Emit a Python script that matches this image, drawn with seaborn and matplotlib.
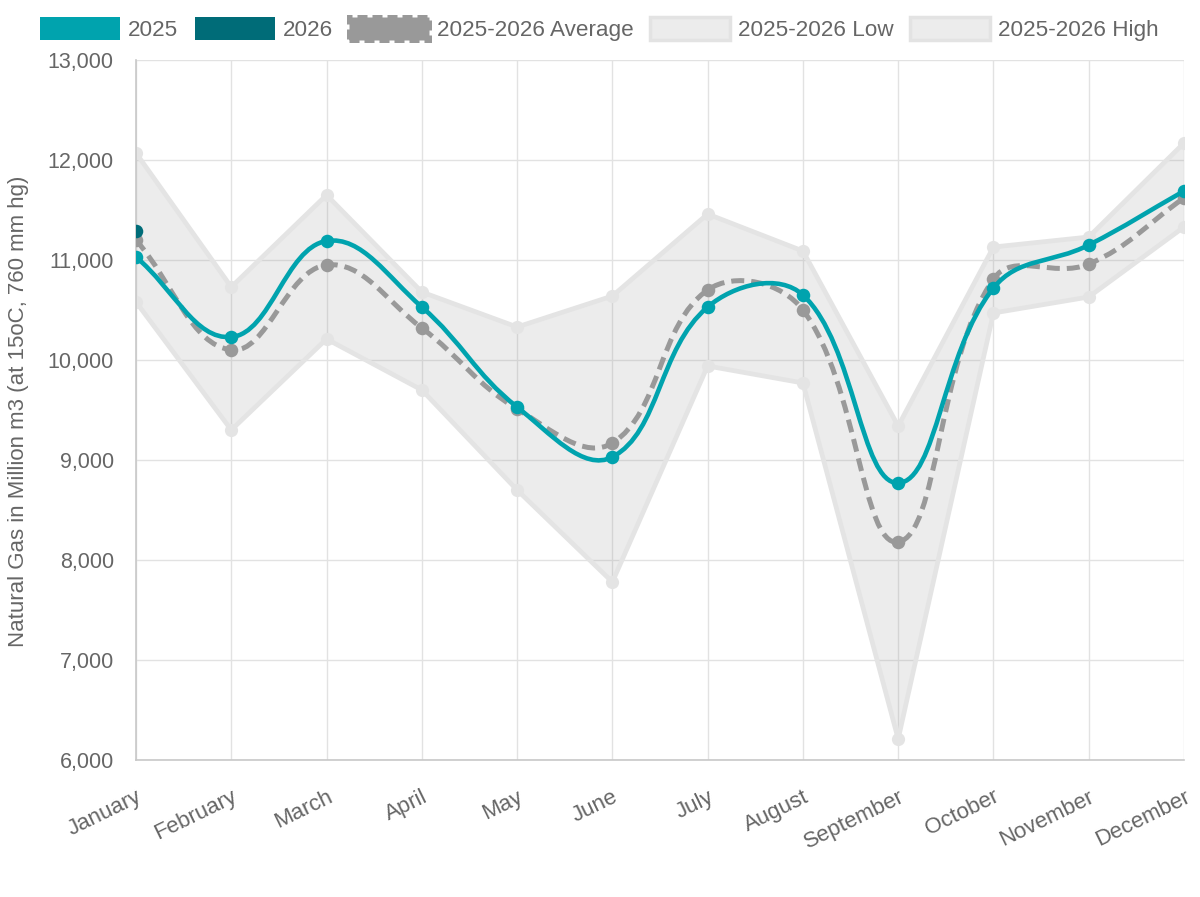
import numpy as np
import pandas as pd
import matplotlib
matplotlib.use('Agg')
import matplotlib.pyplot as plt
from matplotlib.path import Path
from matplotlib.patches import PathPatch, Patch
import seaborn as sns

# 数据
months = ['January', 'February', 'March', 'April', 'May', 'June',
          'July', 'August', 'September', 'October', 'November', 'December']
y2025 = [11030, 10230, 11190, 10530, 9530, 9030, 10530, 10650, 8770, 10720, 11150, 11690]
y2026 = [11290]
avg = [11200, 10100, 10950, 10320, 9510, 9170, 10700, 10500, 8180, 10810, 10960, 11620]
low = [10580, 9300, 10210, 9700, 8700, 7780, 9940, 9770, 6210, 10470, 10630, 11330]
high = [12070, 10730, 11650, 10680, 10330, 10640, 11460, 11090, 9340, 11130, 11230, 12170]

yticks = [6000, 7000, 8000, 9000, 10000, 11000, 12000, 13000]

TEAL = '#00a3ae'
DARK = '#006c78'
GRAY = '#999999'
BAND = '#e4e4e4'
TXT = '#666666'

sns.set_theme(style='white')
plt.rcParams['font.family'] = ['Liberation Sans', 'DejaVu Sans']

fig = plt.figure(figsize=(12, 8.97), dpi=100)
ax = fig.add_axes([136 / 1200, 1 - 760 / 897, 1048 / 1200, 700 / 897])
ax.set_xlim(0, 11)
ax.set_ylim(6000, 13000)

x = np.arange(len(months))
df = pd.DataFrame({'x': x, 'y2025': y2025, 'avg': avg, 'low': low, 'high': high})


def chartjs_curve(xs, ys, tension=0.4):
    """按 Chart.js 的方式生成贝塞尔曲线路径（像素空间计算控制点）"""
    pts = ax.transData.transform(np.column_stack([xs, ys]))
    n = len(pts)
    cp_prev = np.zeros_like(pts)
    cp_next = np.zeros_like(pts)
    for i in range(n):
        cur = pts[i]
        prev = pts[i - 1] if i > 0 else cur
        nxt = pts[i + 1] if i < n - 1 else cur
        d01 = np.hypot(*(cur - prev))
        d12 = np.hypot(*(nxt - cur))
        tot = d01 + d12
        s01 = d01 / tot if tot else 0
        s12 = d12 / tot if tot else 0
        cp_prev[i] = cur - tension * s01 * (nxt - prev)
        cp_next[i] = cur + tension * s12 * (nxt - prev)
    verts = [pts[0]]
    codes = [Path.MOVETO]
    for i in range(n - 1):
        verts += [cp_next[i], cp_prev[i + 1], pts[i + 1]]
        codes += [Path.CURVE4] * 3
    inv = ax.transData.inverted()
    return Path(inv.transform(np.array(verts)), codes)


# 网格
for v in yticks:
    ax.axhline(v, color='#e2e2e2', lw=1.0, zorder=0)
for xi in x:
    ax.axvline(xi, color='#e2e2e2', lw=1.0, zorder=0)

# 高低区间
ax.fill_between(x, low, high, color='#a0a0a0', alpha=0.2, lw=0, zorder=1)
for col in ['low', 'high']:
    sns.lineplot(data=df, x='x', y=col, color=BAND, lw=3.4, ax=ax, zorder=2,
                 marker='o', markersize=9.5, markeredgewidth=0, legend=False)

# 平均线（虚线）
ax.add_patch(PathPatch(chartjs_curve(x, avg), fill=False, edgecolor=GRAY, lw=3.6,
                       linestyle=(0, (2.6, 1.4)), capstyle='butt', zorder=3))
sns.scatterplot(data=df, x='x', y='avg', color=GRAY, s=95, linewidth=0, ax=ax, zorder=4)

# 2025
ax.add_patch(PathPatch(chartjs_curve(x, y2025), fill=False, edgecolor=TEAL, lw=3.3,
                       capstyle='round', zorder=5))
sns.scatterplot(data=df, x='x', y='y2025', color=TEAL, s=95, linewidth=0, ax=ax, zorder=6)

# 2026
sns.scatterplot(x=x[:len(y2026)], y=y2026, color=DARK, s=95, linewidth=0, ax=ax, zorder=7)

# 坐标轴
ax.set_xticks(x)
ax.set_xticklabels(months, rotation=26, ha='right', rotation_mode='anchor')
ax.set_yticks(yticks)
ax.set_yticklabels([f'{v:,}' for v in yticks])
ax.tick_params(axis='both', colors='#e2e2e2', labelcolor=TXT, labelsize=15.5,
               length=10, width=1.0)
ax.tick_params(axis='x', labelsize=16, pad=9)
ax.tick_params(axis='y', pad=6)
ax.set_xlabel('')
ax.set_ylabel('')
for side in ['top', 'right']:
    ax.spines[side].set_visible(False)
for side in ['left', 'bottom']:
    ax.spines[side].set_color('#c8c8c8')
    ax.spines[side].set_linewidth(1.2)

fig.text(19 / 1200, 1 - 411 / 897, 'Natural Gas in Million m3 (at 15oC, 760 mm hg)',
         rotation=90, ha='center', va='center', fontsize=16, color=TXT)

# 图例
handles = [
    Patch(facecolor=TEAL, edgecolor=TEAL, lw=0),
    Patch(facecolor=DARK, edgecolor=DARK, lw=0),
    Patch(facecolor=GRAY, edgecolor=GRAY, lw=3.6, linestyle=(0, (2.0, 1.0))),
    Patch(facecolor='#ececec', edgecolor='#e3e3e3', lw=2.5),
    Patch(facecolor='#ececec', edgecolor='#e3e3e3', lw=2.5),
]
labels = ['2025', '2026', '2025-2026 Average', '2025-2026 Low', '2025-2026 High']
fig.legend(handles, labels, loc='center', bbox_to_anchor=(0.4995, 1 - 29 / 897), ncol=5,
           frameon=False, fontsize=16.2, labelcolor=TXT, handlelength=3.55,
           handleheight=1.22, handletextpad=0.36, columnspacing=0.72, borderpad=0)

fig.savefig('out.png', dpi=100)
